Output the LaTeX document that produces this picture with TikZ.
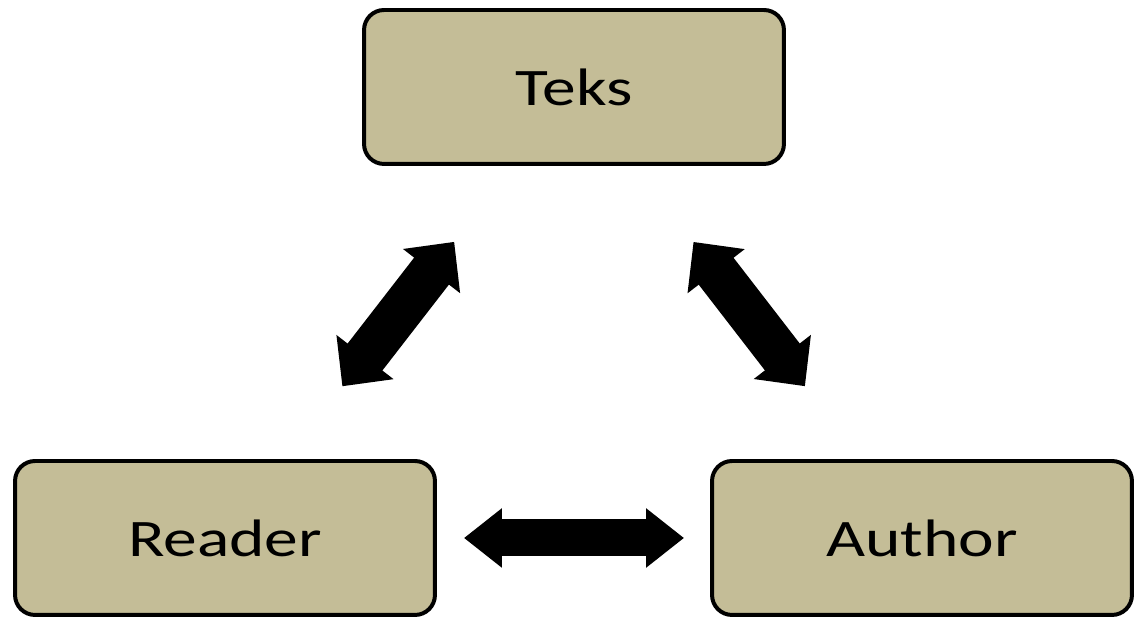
\documentclass[tikz,border=0pt]{standalone}
\usepackage{fontspec}
\setmainfont{Carlito}
\usetikzlibrary{arrows.meta}
\definecolor{BoxClr}{HTML}{C4BD97}
\newcommand{\boxtext}[1]{\scalebox{1.28}[1]{#1}}

\begin{document}
\begin{tikzpicture}[x=0.02cm,y=0.02cm,
  part/.style={draw=black,line width=4pt*0.5669,fill=BoxClr,rounded corners=0.4cm,
    minimum width=8.4cm,minimum height=3.08cm,font=\fontsize{30}{36}\selectfont},
  link/.style={line width=0.74cm,
    {Triangle[width=1.14cm,length=0.76cm]}-{Triangle[width=1.14cm,length=0.76cm]}},
  slant/.style={line width=0.88cm,
    {Triangle[width=1.4cm,length=0.74cm]}-{Triangle[width=1.4cm,length=0.74cm]}}]
\useasboundingbox (0,0) rectangle (1134,618);

\node[part] (teks) at (574,531) {\boxtext{Teks}};
\node[part] (reader) at (225,80) {\boxtext{Reader}};
\node[part] (author) at (922,80) {\boxtext{Author}};

\draw[link,shorten <=0.54cm,shorten >=0.52cm] (reader) -- (author);
\draw[slant,shorten <=1.84cm,shorten >=1.92cm] (reader) -- (teks);
\draw[slant,shorten <=1.84cm,shorten >=1.92cm] (author) -- (teks);

\end{tikzpicture}
\end{document}
